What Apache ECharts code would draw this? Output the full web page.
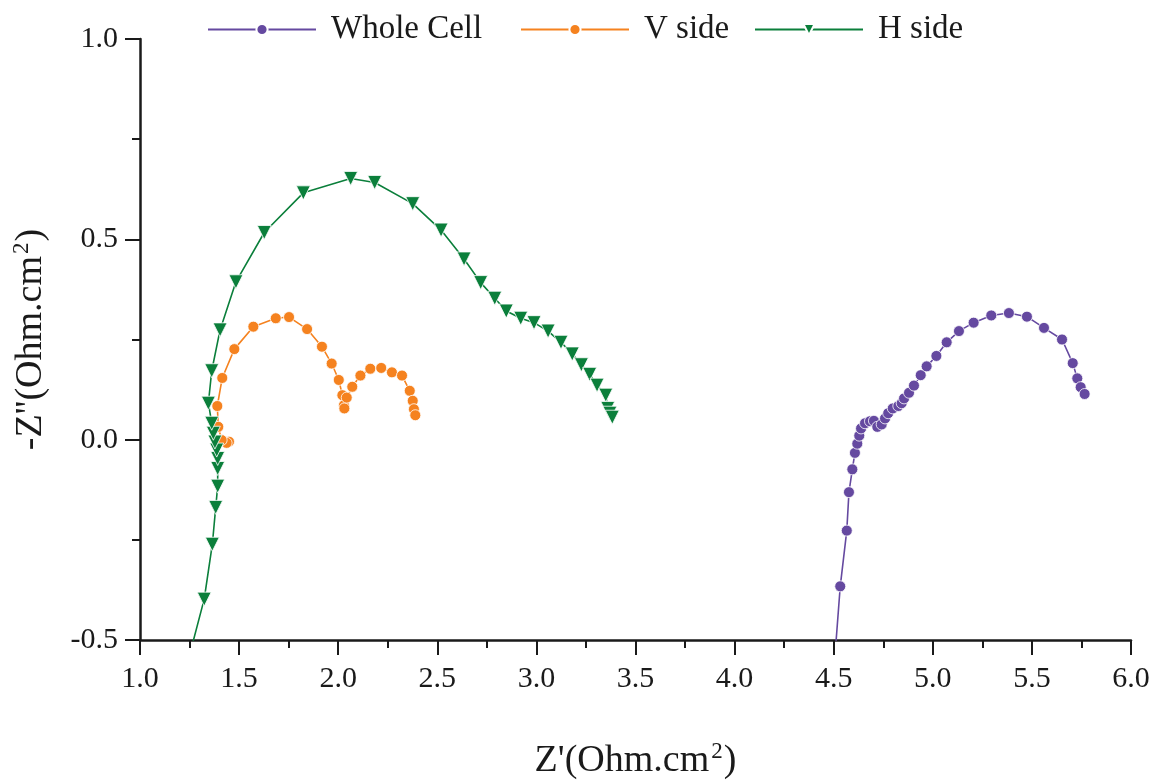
<!DOCTYPE html>
<html>
<head>
<meta charset="utf-8">
<script src="https://cdn.jsdelivr.net/npm/echarts@6/dist/echarts.min.js"></script>
<style>
  html, body { margin: 0; padding: 0; background: #fff; }
  #chart { width: 1151px; height: 780px; }
</style>
</head>
<body>
<div id="chart"></div>
<script>
// ---- data (Z', -Z'') ----
const seriesNames = ['Whole Cell', 'V side', 'H side'];
const xTicks = [1.0, 1.5, 2.0, 2.5, 3.0, 3.5, 4.0, 4.5, 5.0, 5.5, 6.0];
const yTicks = [-0.5, 0.0, 0.5, 1.0];

const wholeCell = [
  [4.497, -0.600], [4.533, -0.366], [4.566, -0.227], [4.577, -0.131], [4.594, -0.074],
  [4.607, -0.033], [4.619, -0.010], [4.629, 0.010], [4.638, 0.028], [4.658, 0.041],
  [4.683, 0.046], [4.703, 0.047], [4.720, 0.032], [4.742, 0.038], [4.759, 0.053],
  [4.775, 0.066], [4.798, 0.078], [4.826, 0.084], [4.843, 0.091], [4.855, 0.103],
  [4.880, 0.117], [4.905, 0.135], [4.939, 0.161], [4.969, 0.183], [5.018, 0.209],
  [5.070, 0.243], [5.132, 0.271], [5.206, 0.292], [5.295, 0.310], [5.384, 0.316],
  [5.475, 0.307], [5.561, 0.279], [5.652, 0.250], [5.706, 0.191], [5.729, 0.153],
  [5.746, 0.131], [5.766, 0.114]
];

const vSide = [
  [1.449, -0.005], [1.437, -0.008], [1.412, -0.001], [1.395, 0.032], [1.390, 0.084],
  [1.415, 0.154], [1.476, 0.226], [1.572, 0.282], [1.685, 0.303], [1.752, 0.306],
  [1.843, 0.276], [1.918, 0.232], [1.967, 0.190], [2.003, 0.149], [2.021, 0.111],
  [2.029, 0.086], [2.031, 0.078], [2.043, 0.105], [2.071, 0.132], [2.112, 0.160],
  [2.162, 0.177], [2.217, 0.179], [2.271, 0.168], [2.322, 0.160], [2.361, 0.122],
  [2.376, 0.097], [2.382, 0.076], [2.389, 0.061]
];

const hSide = [
  [1.217, -0.600], [1.324, -0.398], [1.365, -0.261], [1.382, -0.169], [1.392, -0.116],
  [1.392, -0.072], [1.392, -0.047], [1.387, -0.026], [1.378, -0.006], [1.370, 0.016],
  [1.362, 0.041], [1.345, 0.091], [1.362, 0.172], [1.404, 0.274], [1.484, 0.394],
  [1.627, 0.517], [1.824, 0.616], [2.063, 0.652], [2.184, 0.642], [2.376, 0.589],
  [2.519, 0.523], [2.635, 0.451], [2.719, 0.392], [2.790, 0.353], [2.848, 0.321],
  [2.921, 0.303], [2.988, 0.292], [3.059, 0.271], [3.124, 0.243], [3.181, 0.214],
  [3.227, 0.187], [3.269, 0.163], [3.306, 0.136], [3.350, 0.111], [3.360, 0.078],
  [3.371, 0.066], [3.383, 0.056]
];

// ---- styling ----
const FONT = '"Liberation Serif", "DejaVu Serif", serif';
const TXT = '#1a1a1a';
const colors = ['#6549a0', '#f5821f', '#0b7f3b'];
const legendLefts = [202, 515, 749];

const chart = echarts.init(document.getElementById('chart'), null, { renderer: 'canvas' });

function mkSeries(name, data, color, symbol, size, rotate) {
  return {
    name: name,
    type: 'line',
    data: data,
    clip: true,
    symbol: symbol,
    symbolSize: size,
    symbolRotate: rotate || 0,
    showAllSymbol: true,
    lineStyle: { color: color, width: 1.6 },
    itemStyle: { color: color, borderColor: '#ffffff', borderWidth: 0.8 },
    emphasis: { disabled: true }
  };
}

function mkLegend(i) {
  return {
    top: 8,
    left: legendLefts[i],
    itemWidth: 108,
    itemHeight: 14,
    data: [seriesNames[i]],
    textStyle: { fontFamily: FONT, fontSize: 33, color: TXT, padding: [0, 0, 0, 10] }
  };
}

const titleRich = {
  n: { fontFamily: FONT, fontSize: 38, color: TXT, verticalAlign: 'bottom', lineHeight: 44 },
  s: { fontFamily: FONT, fontSize: 23, color: TXT, verticalAlign: 'bottom', lineHeight: 44, padding: [0, 1, 17, 2] }
};

const option = {
  animation: false,
  backgroundColor: '#ffffff',
  color: colors,
  legend: [mkLegend(0), mkLegend(1), mkLegend(2)],
  grid: { left: 140, right: 20, top: 39, bottom: 140, outerBoundsMode: 'none', containLabel: false },
  xAxis: {
    type: 'value',
    min: xTicks[0],
    max: xTicks[xTicks.length - 1],
    interval: 0.5,
    name: '{n|Z\'(Ohm.cm}{s|2}{n|)}',
    nameLocation: 'middle',
    nameGap: 96,
    nameTextStyle: { rich: titleRich },
    axisLine: { show: true, onZero: false, lineStyle: { color: TXT, width: 2.5 } },
    axisTick: { show: true, inside: false, length: 15, lineStyle: { color: TXT, width: 2 } },
    minorTick: { show: true, splitNumber: 2, length: 8, lineStyle: { color: TXT, width: 2 } },
    splitLine: { show: false },
    axisLabel: {
      fontFamily: FONT, fontSize: 30, color: TXT, margin: 24,
      formatter: function (v) { return v.toFixed(1); }
    }
  },
  yAxis: {
    type: 'value',
    min: yTicks[0],
    max: yTicks[yTicks.length - 1],
    interval: 0.5,
    name: '{n|-Z\'\'(Ohm.cm}{s|2}{n|)}',
    nameLocation: 'middle',
    nameGap: 90,
    nameRotate: 90,
    nameTextStyle: { rich: titleRich },
    axisLine: { show: true, onZero: false, lineStyle: { color: TXT, width: 2.5 } },
    axisTick: { show: true, inside: false, length: 15, lineStyle: { color: TXT, width: 2 } },
    minorTick: { show: true, splitNumber: 2, length: 8, lineStyle: { color: TXT, width: 2 } },
    splitLine: { show: false },
    axisLabel: {
      fontFamily: FONT, fontSize: 30, color: TXT, margin: 22,
      formatter: function (v) { return v.toFixed(1); }
    }
  },
  series: [
    mkSeries(seriesNames[0], wholeCell, colors[0], 'circle', 11),
    mkSeries(seriesNames[1], vSide, colors[1], 'circle', 11),
    mkSeries(seriesNames[2], hSide, colors[2], 'triangle', 14, 180)
  ]
};

chart.setOption(option);
</script>
</body>
</html>
